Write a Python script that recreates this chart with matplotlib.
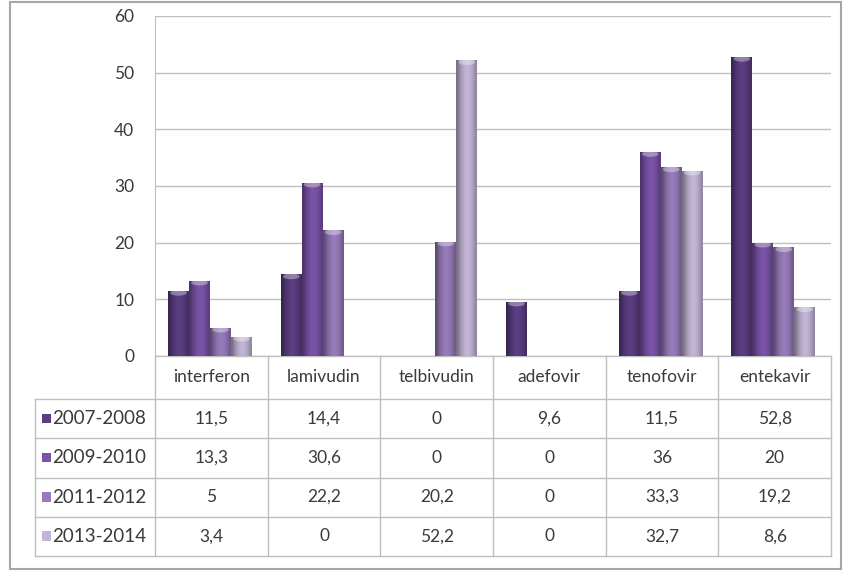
import numpy as np
import matplotlib
matplotlib.use("Agg")
import matplotlib.pyplot as plt
from matplotlib.patches import Rectangle, Ellipse
from matplotlib.transforms import blended_transform_factory

plt.rcParams['font.family'] = ['Lato', 'DejaVu Sans']

# datos
ilaclar = ["interferon", "lamivudin", "telbivudin", "adefovir", "tenofovir", "entekavir"]
donemler = ["2007-2008", "2009-2010", "2011-2012", "2013-2014"]
v_2007 = [11.5, 14.4, 0, 9.6, 11.5, 52.8]
v_2009 = [13.3, 30.6, 0, 0, 36, 20]
v_2011 = [5, 22.2, 20.2, 0, 33.3, 19.2]
v_2013 = [3.4, 0, 52.2, 0, 32.7, 8.6]
y_ticks = [0, 10, 20, 30, 40, 50, 60]

series = [v_2007, v_2009, v_2011, v_2013]
colores = ["#5b3d82", "#7a53a8", "#977bbb", "#c2b5d6"]
texto = "#3a3a3a"
gris = "#bfbfbf"


def fmt(v):
    s = ("%g" % v)
    return s.replace(".", ",")


W, H = 843, 571
fig = plt.figure(figsize=(W / 100, H / 100), dpi=100)

# marco exterior
fig.patches.append(Rectangle((10 / W, 2 / H), 831 / W, 567 / H, transform=fig.transFigure,
                             fill=False, edgecolor="#a6a6a6", linewidth=1.5))

ax = fig.add_axes([155 / W, 1 - 356 / H, 676 / W, 340 / H])
x = np.arange(len(ilaclar))
ancho = 0.186

# sombreado tipo cilindro (negro con alfa variable)
perfil = np.array([0.38, 0.22, 0.10, 0.02, 0.0, 0.04, 0.12, 0.25])
sombra = np.zeros((1, len(perfil), 4))
sombra[0, :, 3] = perfil

for i, (vals, col) in enumerate(zip(series, colores)):
    barras = ax.bar(x + (i - 1.5) * ancho - 0.012, vals, ancho, color=col, zorder=3, linewidth=0)
    for b in barras:
        if b.get_height() <= 0:
            continue
        x0, w, h = b.get_x(), b.get_width(), b.get_height()
        im = ax.imshow(sombra, aspect="auto", extent=(x0, x0 + w, 0, h), zorder=4,
                       interpolation="bilinear")
        im.set_clip_path(b)
        tapa = Ellipse((x0 + w / 2, h - 0.35), w * 0.8, 1.0, facecolor="white", alpha=0.35,
                       linewidth=0, zorder=5)
        ax.add_patch(tapa)
        tapa.set_clip_path(b)

ax.set_xlim(-0.5, len(ilaclar) - 0.5)
ax.set_ylim(0, 60)
ax.set_yticks(y_ticks)
ax.set_yticklabels([str(t) for t in y_ticks], fontsize=12.5, color=texto)
ax.tick_params(axis="y", length=0, pad=15)
ax.set_xticks([])
ax.grid(axis="y", color=gris, linewidth=1, zorder=0)
for s in ["top", "right", "bottom"]:
    ax.spines[s].set_visible(False)
ax.spines["left"].set_color(gris)

# tabla de datos
tr = blended_transform_factory(ax.transData, ax.transAxes)
ph = 340.0
y_head = -43 / ph
fila = 39.25 / ph
x_izq = -0.5 - 120 / 112.7
x_der = len(ilaclar) - 0.5
y_fin = y_head - fila * len(donemler)
lkw = dict(color=gris, linewidth=1, transform=tr, clip_on=False)

# lineas verticales
ax.plot([x_izq, x_izq], [y_head, y_fin], **lkw)
for k in range(len(ilaclar) + 1):
    ax.plot([k - 0.5, k - 0.5], [0, y_fin], **lkw)
# lineas horizontales
ax.plot([-0.5, x_der], [0, 0], **lkw)
for r in range(len(donemler) + 1):
    ax.plot([x_izq, x_der], [y_head - r * fila] * 2, **lkw)

for k, nombre in enumerate(ilaclar):
    ax.text(k, y_head / 2, nombre, transform=tr, ha="center", va="center",
            fontsize=12.5, color=texto, clip_on=False)

for r, (per, vals, col) in enumerate(zip(donemler, series, colores)):
    yc = y_head - (r + 0.5) * fila
    ax.add_patch(Rectangle((x_izq + 0.065, yc - 0.013), 0.075, 0.028, transform=tr,
                           facecolor=col, edgecolor="none", clip_on=False))
    ax.text(x_izq + 0.155, yc, per, transform=tr, ha="left", va="center",
            fontsize=13.5, color=texto, clip_on=False)
    for k, v in enumerate(vals):
        ax.text(k, yc, fmt(v), transform=tr, ha="center", va="center",
                fontsize=12.5, color=texto, clip_on=False)

fig.savefig("out.png", dpi=100)
